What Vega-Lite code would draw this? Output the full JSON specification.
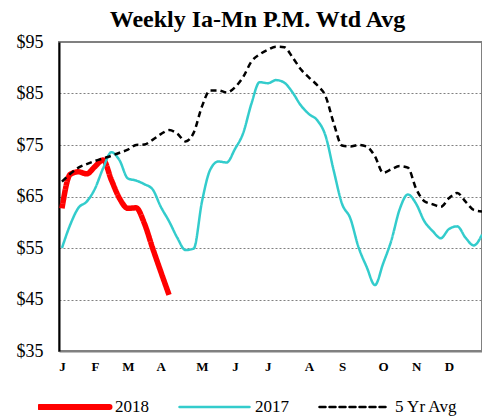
{
  "$schema": "https://vega.github.io/schema/vega-lite/v6.json",
  "width": 423,
  "height": 309,
  "autosize": {"type": "none"},
  "padding": {"left": 59, "top": 42, "right": 0, "bottom": 67},
  "background": "white",
  "config": {
    "view": {"stroke": "#808080", "strokeWidth": 2},
    "font": "Liberation Serif"
  },
  "title": {
    "text": "Weekly Ia-Mn P.M. Wtd Avg",
    "font": "Liberation Serif",
    "fontSize": 24,
    "fontWeight": "bold",
    "color": "black",
    "anchor": "middle",
    "offset": 1,
    "dx": -13
  },
  "datasets": {
    "prices": [
      {"week": 1, "series": "2018", "price": 62.7},
      {"week": 2, "series": "2018", "price": 69.3},
      {"week": 3, "series": "2018", "price": 69.8},
      {"week": 4, "series": "2018", "price": 69.4},
      {"week": 5, "series": "2018", "price": 70.8},
      {"week": 6, "series": "2018", "price": 72.1},
      {"week": 7, "series": "2018", "price": 68.2},
      {"week": 8, "series": "2018", "price": 64.6},
      {"week": 9, "series": "2018", "price": 62.7},
      {"week": 10, "series": "2018", "price": 62.8},
      {"week": 11, "series": "2018", "price": 59.8},
      {"week": 12, "series": "2018", "price": 55.0},
      {"week": 13, "series": "2018", "price": 50.4},
      {"week": 14, "series": "2018", "price": 45.9},
      {"week": 1, "series": "2017", "price": 55.0},
      {"week": 2, "series": "2017", "price": 59.5},
      {"week": 3, "series": "2017", "price": 62.8},
      {"week": 4, "series": "2017", "price": 64.0},
      {"week": 5, "series": "2017", "price": 66.5},
      {"week": 6, "series": "2017", "price": 70.5},
      {"week": 7, "series": "2017", "price": 73.6},
      {"week": 8, "series": "2017", "price": 72.0},
      {"week": 9, "series": "2017", "price": 68.5},
      {"week": 10, "series": "2017", "price": 68.1},
      {"week": 11, "series": "2017", "price": 67.4},
      {"week": 12, "series": "2017", "price": 66.4},
      {"week": 13, "series": "2017", "price": 63.0},
      {"week": 14, "series": "2017", "price": 60.2},
      {"week": 15, "series": "2017", "price": 57.0},
      {"week": 16, "series": "2017", "price": 54.6},
      {"week": 17, "series": "2017", "price": 54.9},
      {"week": 18, "series": "2017", "price": 64.0},
      {"week": 19, "series": "2017", "price": 70.2},
      {"week": 20, "series": "2017", "price": 71.8},
      {"week": 21, "series": "2017", "price": 71.6},
      {"week": 22, "series": "2017", "price": 74.2},
      {"week": 23, "series": "2017", "price": 77.3},
      {"week": 24, "series": "2017", "price": 83.0},
      {"week": 25, "series": "2017", "price": 87.2},
      {"week": 26, "series": "2017", "price": 87.0},
      {"week": 27, "series": "2017", "price": 87.6},
      {"week": 28, "series": "2017", "price": 87.1},
      {"week": 29, "series": "2017", "price": 85.2},
      {"week": 30, "series": "2017", "price": 82.7},
      {"week": 31, "series": "2017", "price": 81.0},
      {"week": 32, "series": "2017", "price": 79.8},
      {"week": 33, "series": "2017", "price": 76.8},
      {"week": 34, "series": "2017", "price": 70.0},
      {"week": 35, "series": "2017", "price": 63.6},
      {"week": 36, "series": "2017", "price": 60.8},
      {"week": 37, "series": "2017", "price": 55.2},
      {"week": 38, "series": "2017", "price": 51.3},
      {"week": 39, "series": "2017", "price": 47.8},
      {"week": 40, "series": "2017", "price": 52.0},
      {"week": 41, "series": "2017", "price": 56.5},
      {"week": 42, "series": "2017", "price": 62.5},
      {"week": 43, "series": "2017", "price": 65.4},
      {"week": 44, "series": "2017", "price": 63.6},
      {"week": 45, "series": "2017", "price": 60.2},
      {"week": 46, "series": "2017", "price": 58.3},
      {"week": 47, "series": "2017", "price": 56.9},
      {"week": 48, "series": "2017", "price": 58.7},
      {"week": 49, "series": "2017", "price": 59.2},
      {"week": 50, "series": "2017", "price": 57.0},
      {"week": 51, "series": "2017", "price": 55.5},
      {"week": 52, "series": "2017", "price": 57.6},
      {"week": 1, "series": "5 Yr Avg", "price": 67.9},
      {"week": 2, "series": "5 Yr Avg", "price": 69.4},
      {"week": 3, "series": "5 Yr Avg", "price": 70.6},
      {"week": 4, "series": "5 Yr Avg", "price": 71.3},
      {"week": 5, "series": "5 Yr Avg", "price": 71.9},
      {"week": 6, "series": "5 Yr Avg", "price": 72.4},
      {"week": 7, "series": "5 Yr Avg", "price": 72.9},
      {"week": 8, "series": "5 Yr Avg", "price": 73.5},
      {"week": 9, "series": "5 Yr Avg", "price": 74.1},
      {"week": 10, "series": "5 Yr Avg", "price": 75.0},
      {"week": 11, "series": "5 Yr Avg", "price": 75.1},
      {"week": 12, "series": "5 Yr Avg", "price": 76.0},
      {"week": 13, "series": "5 Yr Avg", "price": 77.1},
      {"week": 14, "series": "5 Yr Avg", "price": 77.9},
      {"week": 15, "series": "5 Yr Avg", "price": 77.2},
      {"week": 16, "series": "5 Yr Avg", "price": 75.7},
      {"week": 17, "series": "5 Yr Avg", "price": 77.4},
      {"week": 18, "series": "5 Yr Avg", "price": 82.5},
      {"week": 19, "series": "5 Yr Avg", "price": 85.6},
      {"week": 20, "series": "5 Yr Avg", "price": 85.6},
      {"week": 21, "series": "5 Yr Avg", "price": 85.2},
      {"week": 22, "series": "5 Yr Avg", "price": 86.2},
      {"week": 23, "series": "5 Yr Avg", "price": 88.2},
      {"week": 24, "series": "5 Yr Avg", "price": 91.2},
      {"week": 25, "series": "5 Yr Avg", "price": 92.6},
      {"week": 26, "series": "5 Yr Avg", "price": 93.5},
      {"week": 27, "series": "5 Yr Avg", "price": 94.1},
      {"week": 28, "series": "5 Yr Avg", "price": 94.0},
      {"week": 29, "series": "5 Yr Avg", "price": 92.0},
      {"week": 30, "series": "5 Yr Avg", "price": 89.7},
      {"week": 31, "series": "5 Yr Avg", "price": 88.1},
      {"week": 32, "series": "5 Yr Avg", "price": 86.6},
      {"week": 33, "series": "5 Yr Avg", "price": 84.5},
      {"week": 34, "series": "5 Yr Avg", "price": 79.2},
      {"week": 35, "series": "5 Yr Avg", "price": 74.9},
      {"week": 36, "series": "5 Yr Avg", "price": 74.7},
      {"week": 37, "series": "5 Yr Avg", "price": 75.0},
      {"week": 38, "series": "5 Yr Avg", "price": 74.7},
      {"week": 39, "series": "5 Yr Avg", "price": 72.8},
      {"week": 40, "series": "5 Yr Avg", "price": 69.6},
      {"week": 41, "series": "5 Yr Avg", "price": 70.3},
      {"week": 42, "series": "5 Yr Avg", "price": 70.9},
      {"week": 43, "series": "5 Yr Avg", "price": 70.6},
      {"week": 44, "series": "5 Yr Avg", "price": 66.5},
      {"week": 45, "series": "5 Yr Avg", "price": 64.1},
      {"week": 46, "series": "5 Yr Avg", "price": 63.5},
      {"week": 47, "series": "5 Yr Avg", "price": 63.0},
      {"week": 48, "series": "5 Yr Avg", "price": 64.7},
      {"week": 49, "series": "5 Yr Avg", "price": 65.7},
      {"week": 50, "series": "5 Yr Avg", "price": 64.0},
      {"week": 51, "series": "5 Yr Avg", "price": 62.4},
      {"week": 52, "series": "5 Yr Avg", "price": 62.1}
    ]
  },
  "data": {"name": "prices"},
  "mark": {"type": "line", "interpolate": "monotone", "strokeCap": "butt"},
  "encoding": {
    "x": {
      "field": "week",
      "type": "quantitative",
      "scale": {"domain": [0.64, 52], "nice": false, "zero": false},
      "axis": {
        "title": null,
        "values": [1, 5, 9, 13, 18, 22, 26, 31, 35, 40, 44, 48],
        "labelExpr": "['J','F','M','A','M','J','J','A','S','O','N','D'][indexof([1,5,9,13,18,22,26,31,35,40,44,48], datum.value)]",
        "grid": false,
        "ticks": false,
        "domainColor": "#808080",
        "domainWidth": 2,
        "labelFont": "Liberation Serif",
        "labelFontWeight": "bold",
        "labelFontSize": 13,
        "labelColor": "black",
        "labelPadding": 9
      }
    },
    "y": {
      "field": "price",
      "type": "quantitative",
      "scale": {"domain": [35, 95], "nice": false, "zero": false},
      "axis": {
        "title": null,
        "values": [35, 45, 55, 65, 75, 85, 95],
        "labelExpr": "'$' + datum.value",
        "grid": true,
        "gridColor": "#808080",
        "gridDash": [2, 2],
        "gridWidth": 1,
        "ticks": false,
        "domainColor": "black",
        "domainWidth": 2,
        "labelFont": "Liberation Serif",
        "labelFontSize": 18,
        "labelColor": "black",
        "labelPadding": 16
      }
    },
    "color": {
      "field": "series",
      "type": "nominal",
      "scale": {"domain": ["2018", "2017", "5 Yr Avg"], "range": ["#FF0000", "#33CCCC", "#000000"]},
      "legend": {
        "title": null,
        "orient": "none",
        "legendX": -21,
        "legendY": 355,
        "direction": "horizontal",
        "symbolType": "M-1,0H1",
        "symbolSize": 4900,
        "clipHeight": 20,
        "labelFont": "Liberation Serif",
        "labelFontSize": 17,
        "labelColor": "black",
        "labelOffset": 4,
        "columnPadding": 29,
        "encode": {
          "symbols": {
            "update": {
              "strokeWidth": {"signal": "(datum.value === '2018' ? 6 : 2.5)"},
              "strokeCap": {"value": "round"}
            }
          }
        }
      }
    },
    "strokeDash": {
      "field": "series",
      "type": "nominal",
      "scale": {"domain": ["2018", "2017", "5 Yr Avg"], "range": [[1, 0], [1, 0], [6, 4]]},
      "legend": null
    },
    "strokeWidth": {
      "condition": {"test": "datum.series === '2018'", "value": 5.5},
      "value": 2.5
    }
  }
}
